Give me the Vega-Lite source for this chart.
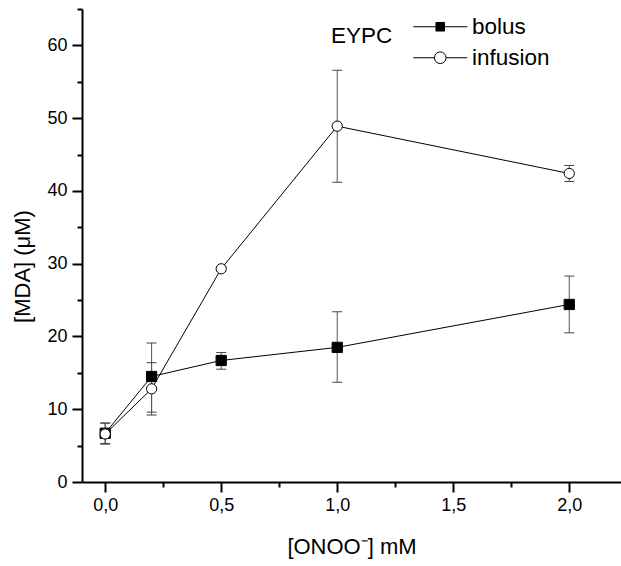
{
  "$schema": "https://vega.github.io/schema/vega-lite/v6.json",
  "width": 539,
  "height": 473,
  "autosize": {"type": "none"},
  "padding": {"left": 82, "top": 9, "right": 0, "bottom": 84},
  "background": "white",
  "config": {
    "view": {"stroke": null},
    "font": "Liberation Sans",
    "axis": {
      "grid": false,
      "domainColor": "black",
      "domainWidth": 2,
      "tickColor": "black",
      "tickWidth": 2,
      "labelFont": "Liberation Sans",
      "labelFontSize": 18,
      "labelColor": "black",
      "titleFont": "Liberation Sans",
      "titleFontSize": 22,
      "titleFontWeight": "normal",
      "titleColor": "black"
    },
    "legend": {
      "orient": "none",
      "legendX": 249,
      "legendY": 6.5,
      "titleOrient": "left",
      "titlePadding": 36,
      "titleFont": "Liberation Sans",
      "titleFontSize": 22.5,
      "titleFontWeight": "normal",
      "titleColor": "black",
      "titleBaseline": "alphabetic",
      "labelFont": "Liberation Sans",
      "labelFontSize": 22.5,
      "labelColor": "black",
      "labelOffset": 20.5,
      "rowPadding": 8,
      "padding": 0,
      "symbolSize": 400,
      "symbolStrokeColor": "black",
      "symbolStrokeWidth": 1
    }
  },
  "data": {
    "values": [
      {"series": "bolus", "conc": 0.0, "mda": 6.7, "lo": 5.3, "hi": 8.1},
      {"series": "bolus", "conc": 0.2, "mda": 14.5, "lo": 9.6, "hi": 19.1},
      {"series": "bolus", "conc": 0.5, "mda": 16.7, "lo": 15.5, "hi": 17.8},
      {"series": "bolus", "conc": 1.0, "mda": 18.5, "lo": 13.7, "hi": 23.4},
      {"series": "bolus", "conc": 2.0, "mda": 24.4, "lo": 20.5, "hi": 28.3},
      {"series": "infusion", "conc": 0.0, "mda": 6.6, "lo": 5.2, "hi": 8.1},
      {"series": "infusion", "conc": 0.2, "mda": 12.8, "lo": 9.2, "hi": 16.4},
      {"series": "infusion", "conc": 0.5, "mda": 29.3, "lo": 29.0, "hi": 29.6},
      {"series": "infusion", "conc": 1.0, "mda": 48.9, "lo": 41.2, "hi": 56.6},
      {"series": "infusion", "conc": 2.0, "mda": 42.4, "lo": 41.3, "hi": 43.5}
    ]
  },
  "encoding": {
    "x": {
      "field": "conc",
      "type": "quantitative",
      "scale": {"domain": [-0.1, 2.223], "nice": false, "zero": false},
      "axis": {
        "title": "[ONOO⁻] mM",
        "values": [0, 0.25, 0.5, 0.75, 1, 1.25, 1.5, 1.75, 2],
        "labelExpr": "abs(datum.value*2-round(datum.value*2))<0.001 ? replace(format(datum.value,'.1f'),'.',',') : ''",
        "tickSize": {"condition": {"test": "abs(datum.value*2-round(datum.value*2))<0.001", "value": 10}, "value": 5},
        "labelPadding": 4,
        "titleBaseline": "alphabetic",
        "titleY": 71
      }
    },
    "y": {
      "field": "mda",
      "type": "quantitative",
      "scale": {"domain": [0, 65], "nice": false, "zero": true},
      "axis": {
        "title": "[MDA] (μM)",
        "values": [0, 5, 10, 15, 20, 25, 30, 35, 40, 45, 50, 55, 60, 65],
        "labelExpr": "datum.value % 10 == 0 ? datum.label : ''",
        "tickSize": {"condition": {"test": "datum.value % 10 == 0", "value": 10}, "value": 5},
        "labelPadding": 5,
        "titleX": -60,
        "titleY": 257,
        "titleBaseline": "middle",
        "titleAlign": "center"
      }
    }
  },
  "layer": [
    {
      "mark": {"type": "rule", "color": "#555555", "strokeWidth": 1},
      "encoding": {
        "y": {"field": "lo", "type": "quantitative", "scale": {"domain": [0, 65], "nice": false}},
        "y2": {"field": "hi"}
      }
    },
    {
      "mark": {"type": "tick", "orient": "horizontal", "size": 10, "thickness": 1, "color": "#444444", "opacity": 1},
      "encoding": {
        "y": {"field": "hi", "type": "quantitative", "scale": {"domain": [0, 65], "nice": false}}
      }
    },
    {
      "mark": {"type": "tick", "orient": "horizontal", "size": 10, "thickness": 1, "color": "#444444", "opacity": 1},
      "encoding": {
        "y": {"field": "lo", "type": "quantitative", "scale": {"domain": [0, 65], "nice": false}}
      }
    },
    {
      "mark": {"type": "line", "color": "black", "strokeWidth": 1},
      "encoding": {
        "detail": {"field": "series", "type": "nominal"}
      }
    },
    {
      "mark": {"type": "point", "filled": true, "stroke": "black", "strokeWidth": 1, "size": 105, "opacity": 1},
      "encoding": {
        "shape": {
          "field": "series",
          "type": "nominal",
          "scale": {"domain": ["bolus", "infusion"], "range": ["square", "circle"]},
          "legend": null
        },
        "fill": {
          "field": "series",
          "type": "nominal",
          "scale": {"domain": ["bolus", "infusion"], "range": ["black", "white"]},
          "legend": null
        }
      }
    },
    {
      "mark": {"type": "point", "filled": true, "stroke": "black", "strokeWidth": 1, "size": 0, "opacity": 0},
      "encoding": {
        "shape": {
          "field": "series",
          "type": "nominal",
          "scale": {
            "domain": ["bolus", "infusion"],
            "range": [
              "M-2.7,0H-0.43M0.43,0H2.7M-0.43,-0.43H0.43V0.43H-0.43Z",
              "M-2.7,0H-0.58M0.58,0H2.7M0.58,0A0.58,0.58,0,1,1,-0.58,0A0.58,0.58,0,1,1,0.58,0Z"
            ]
          },
          "legend": {
            "title": "EYPC",
            "encode": {
              "symbols": {
                "update": {
                  "size": {"value": 400},
                  "stroke": {"value": "black"},
                  "strokeWidth": {"value": 1},
                  "opacity": {"value": 1}
                }
              }
            }
          }
        },
        "fill": {
          "field": "series",
          "type": "nominal",
          "scale": {"domain": ["bolus", "infusion"], "range": ["black", "white"]},
          "legend": {
            "title": "EYPC",
            "encode": {
              "symbols": {
                "update": {
                  "size": {"value": 400},
                  "stroke": {"value": "black"},
                  "strokeWidth": {"value": 1},
                  "opacity": {"value": 1}
                }
              }
            }
          }
        }
      }
    }
  ],
  "resolve": {"scale": {"shape": "independent", "fill": "independent"}, "legend": {"shape": "independent", "fill": "independent"}}
}
